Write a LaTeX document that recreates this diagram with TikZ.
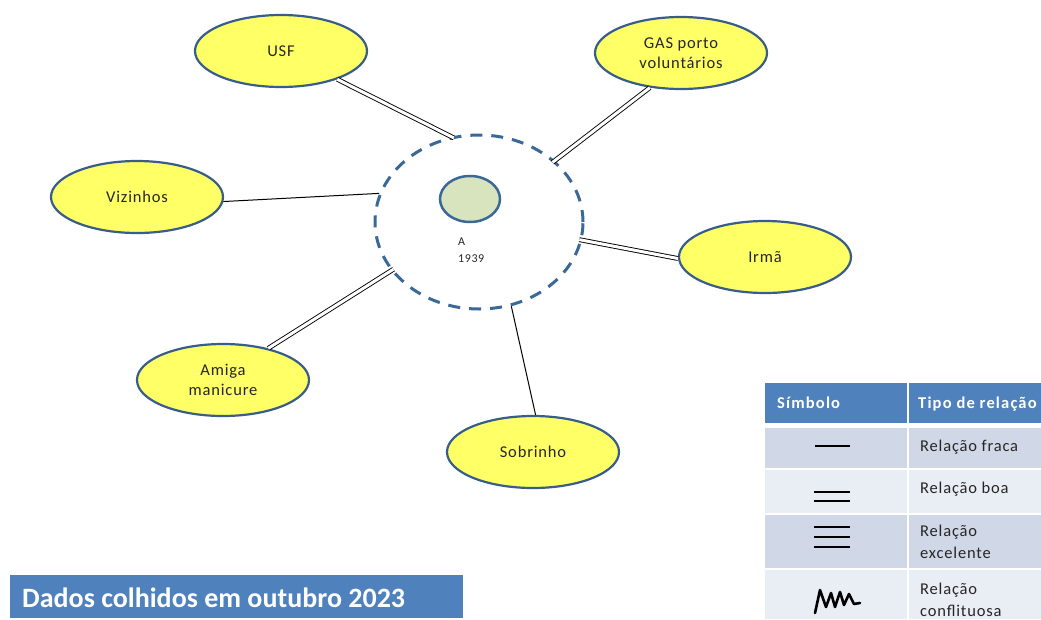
\documentclass[tikz,border=0pt]{standalone}
\usepackage{fontspec}
\setmainfont{Carlito}
\newfontfamily\spaced[LetterSpace=5]{Carlito}
\newfontfamily\widespaced[LetterSpace=7]{Carlito}
\usetikzlibrary{shapes.geometric}
\definecolor{nodefill}{HTML}{FFFF66}
\definecolor{nodeline}{HTML}{385D8A}
\definecolor{egoline}{HTML}{3A6897}
\definecolor{egofill}{HTML}{D7E4BD}
\definecolor{headblue}{HTML}{4F81BD}
\definecolor{rowdark}{HTML}{D0D8E8}
\definecolor{rowlight}{HTML}{E9EDF4}
\definecolor{txt}{HTML}{262626}
\begin{document}
\begin{tikzpicture}[x=1pt,y=-1pt,
  person/.style={ellipse,draw=nodeline,line width=2.2pt,fill=nodefill,
    minimum width=172pt,minimum height=72pt,inner sep=0pt,align=center,
    font=\spaced\fontsize{16.5}{20}\selectfont,text=txt},
  weak/.style={line width=1pt,black},
  good/.style={line width=0.9pt,double=white,double distance=3pt,black,shorten >=-3pt},
  legline/.style={line width=1.1pt,black},
  legtext/.style={anchor=base west,font=\spaced\fontsize{16.5}{20}\selectfont,text=txt,inner sep=0pt},
  headtext/.style={anchor=base west,font=\widespaced\bfseries\fontsize{16.5}{20}\selectfont,text=white,inner sep=0pt},
  small/.style={anchor=base west,inner sep=0pt,font=\spaced\fontsize{12}{14}\selectfont,text=txt},
]
\useasboundingbox (0,0) rectangle (1041,619);
\clip (0,0) rectangle (1041,619);

% network members
\node[person] (usf) at (281,51) {USF};
\node[person] (gas) at (681,53) {GAS porto\\voluntários};
\node[person] (irma) at (765,257) {Irmã};
\node[person] (viz) at (137,197) {Vizinhos};
\node[person] (amiga) at (223,380) {Amiga\\manicure};
\node[person] (sob) at (533,452) {Sobrinho};

% household boundary and ego
\node[ellipse,draw=egoline,line width=3pt,dash pattern=on 12pt off 9pt,
  minimum width=208pt,minimum height=174pt,inner sep=0pt] (home) at (479,222) {};
\node[ellipse,draw=egoline,line width=2.5pt,fill=egofill,
  minimum width=60pt,minimum height=46pt,inner sep=0pt] (ego) at (470,199) {};
\node[small] (lblA) at (458,245) {A};
\node[small] (lblY) at (458,262) {1939};

% relations
\draw[good] (usf) -- (home.108.6);
\draw[good] (gas.228) -- (home.39);
\draw[good] (irma.181) -- (home.-10);
\draw[weak] (viz.-3) -- (home.164);
\draw[good] (amiga.35.5) -- (home.209);
\draw[weak] (sob.86) -- (home.291.6);

% title banner
\node[fill=headblue,minimum width=453pt,minimum height=43pt,inner sep=0pt,anchor=north west] (banner) at (10,575) {};
\node[anchor=base west,inner sep=0pt,text=white,font=\bfseries\fontsize{28}{32}\selectfont] (title) at (22,607) {Dados colhidos em outubro 2023};

% legend table
\fill[headblue] (765,383) rectangle (1041,423);
\fill[rowdark] (765,428) rectangle (1041,468);
\fill[rowlight] (765,470) rectangle (1041,513);
\fill[rowdark] (765,515) rectangle (1041,568);
\fill[rowlight] (765,570) rectangle (1041,619);
\draw[white,line width=2pt] (908,383) -- (908,619);
\node[headtext] (h1) at (777,408) {Símbolo};
\node[headtext] (h2) at (918,408) {Tipo de relação};
\node[legtext] (t1) at (920,451) {Relação fraca};
\node[legtext] (t2) at (920,493) {Relação boa};
\node[legtext] (t3a) at (920,536) {Relação};
\node[legtext] (t3b) at (920,558) {excelente};
\node[legtext] (t4a) at (920,594) {Relação};
\node[legtext] (t4b) at (920,616) {conflituosa};

% legend symbols
\draw[legline] (815,446) -- (850,446);
\draw[legline] (814,492) -- (850,492);
\draw[legline] (814,501) -- (850,501);
\draw[legline] (814,527) -- (850,527);
\draw[legline] (814,537) -- (850,537);
\draw[legline] (814,547) -- (850,547);
\draw[black,line width=2.6pt,line join=round,line cap=round]
  (815,613) -- (820,590) -- (826,607) -- (831,593) -- (835,607) -- (840,592)
  -- (844,605) -- (849,594) -- (854,604) -- (860,603);
\end{tikzpicture}
\end{document}
